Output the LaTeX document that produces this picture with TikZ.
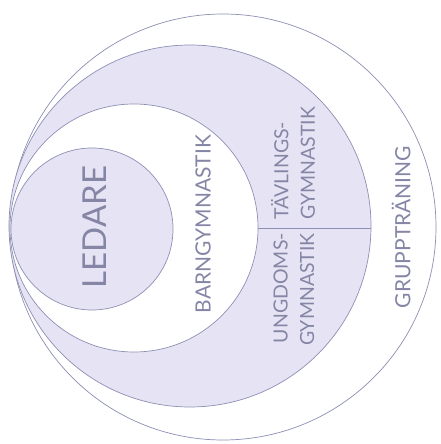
\documentclass[tikz,border=0pt]{standalone}
\usepackage{fontspec}
\setmainfont{Lato}
\definecolor{lav}{HTML}{E6E4F4}
\definecolor{ink}{HTML}{8D8FB4}
\definecolor{txt}{HTML}{8586A6}
\begin{document}
\begin{tikzpicture}[x=1pt,y=1pt,
  ring/.style={circle,draw=ink,line width=0.7pt,inner sep=0pt},
  lbl/.style={rotate=90,text=txt,inner sep=0pt,font=\fontsize{21}{26}\selectfont},
  two/.style={lbl,font=\fontsize{19.5}{26.5}\selectfont}]
\useasboundingbox (0,0) rectangle (440,444);
\fill[white] (0,0) rectangle (440,444);
\node[ring,fill=white,minimum size=426pt] (outer) at (223,217) {};
\node[ring,fill=lav,minimum size=362pt] (lavc) at (190,218) {};
\node[ring,fill=white,minimum size=248pt] (white) at (134,216) {};
\node[ring,fill=lav,minimum size=162pt] (ledc) at (92,215) {};
\draw[ink,line width=0.7pt] (white.east) -- (white.east -| lavc.east);
\node[lbl,font=\fontsize{33}{36}\selectfont] (ledare) at (95,217) {LEDARE};
\node[lbl] (barn) at (203,220) {BARNGYMNASTIK};
\node[two,align=left,anchor=west] (tav) at (293,224) {TÄVLINGS-\\GYMNASTIK};
\node[two,align=right,anchor=east] (ung) at (294,211) {UNGDOMS-\\GYMNASTIK};
\node[lbl] (grupp) at (401,217) {GRUPPTRÄNING};
\end{tikzpicture}
\end{document}
